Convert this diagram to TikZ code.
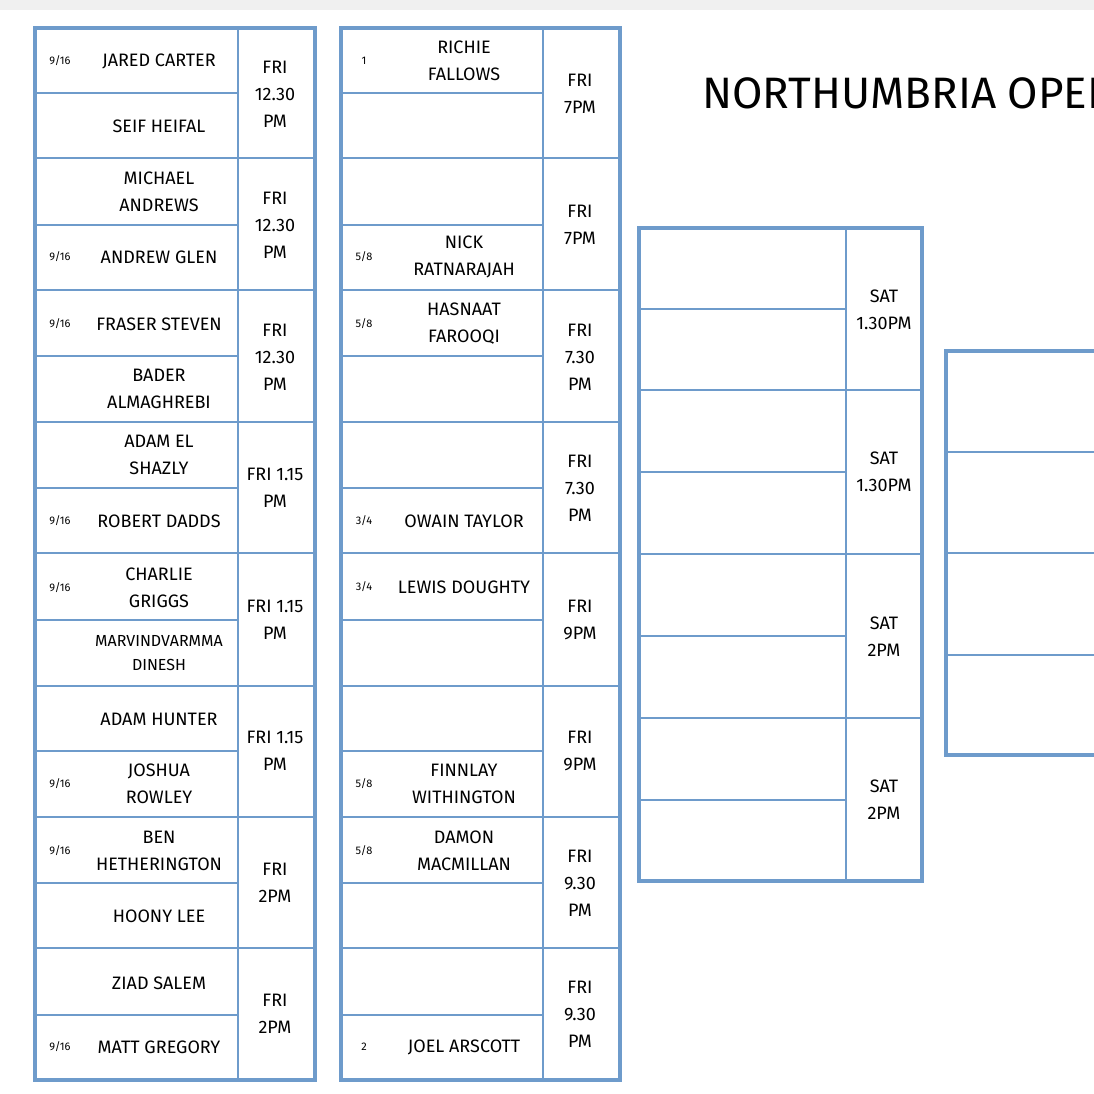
\documentclass[tikz,border=0pt]{standalone}
\usepackage{fontspec}
\setmainfont{Fira Sans}
\usetikzlibrary{positioning}
\definecolor{gridblue}{HTML}{6E9BCB}
\tikzset{
  outer/.style={draw=gridblue,line width=1.6pt},
  sep/.style={draw=gridblue,line width=1pt},
  slot/.style={draw=gridblue,line width=0.7pt},
  player/.style={align=center,font=\fontsize{9}{13.5}\selectfont,inner sep=0pt},
  seed/.style={font=\fontsize{5.5}{6}\selectfont,inner sep=0pt},
  slottime/.style={align=center,font=\fontsize{9}{13.5}\selectfont,inner sep=0pt},
}
\begin{document}
\begin{tikzpicture}[x=0.5pt,y=-0.5pt]
\useasboundingbox (0,0) rectangle (1094,1094);
\clip (0,0) rectangle (1094,1094);
\fill[black!6] (0,0) rectangle (1094,10);

% first round grid
\foreach \xl/\xm/\xr in {35/238/315,341/543/620}{
  \draw[outer] (\xl,28) rectangle (\xr,1080);
  \draw[slot] (\xm,28) -- (\xm,1080);
  \foreach \y in {158,290,422,553,686,817,948}
    \draw[sep] (\xl,\y) -- (\xr,\y);
  \foreach \y in {93,225,356,488,620,751,883,1015}
    \draw[slot] (\xl,\y) -- (\xm,\y);
}
% second round grid
\draw[outer] (639,228) rectangle (922,881);
\draw[slot] (846,228) -- (846,881);
\foreach \y in {390,554,718}
  \draw[sep] (639,\y) -- (922,\y);
\foreach \y in {309,472,636,800}
  \draw[slot] (639,\y) -- (846,\y);
% third round grid
\draw[outer] (946,351) rectangle (1120,755);
\foreach \y in {452,553,655}
  \draw[slot] (946,\y) -- (1120,\y);

\node[anchor=west,font=\fontsize{22}{24}\selectfont,inner sep=0pt] (title) at (702,93) {NORTHUMBRIA OPEN};

% column one
\node[seed] (s1a) at (60,61) {9/16};
\node[player] (p1a) at (159,61) {JARED CARTER};
\node[player] (p1b) at (159,126) {SEIF HEIFAL};
\node[slottime] (t1) at (275,94) {FRI\\12.30\\PM};
\node[player] (p2a) at (159,192) {MICHAEL\\ANDREWS};
\node[seed] (s2b) at (60,257) {9/16};
\node[player] (p2b) at (159,257) {ANDREW GLEN};
\node[slottime] (t2) at (275,225) {FRI\\12.30\\PM};
\node[seed] (s3a) at (60,324) {9/16};
\node[player] (p3a) at (159,324) {FRASER STEVEN};
\node[player] (p3b) at (159,389) {BADER\\ALMAGHREBI};
\node[slottime] (t3) at (275,357) {FRI\\12.30\\PM};
\node[player] (p4a) at (159,455) {ADAM EL\\SHAZLY};
\node[seed] (s4b) at (60,521) {9/16};
\node[player] (p4b) at (159,521) {ROBERT DADDS};
\node[slottime] (t4) at (275,488) {FRI 1.15\\PM};
\node[seed] (s5a) at (60,588) {9/16};
\node[player] (p5a) at (159,588) {CHARLIE\\GRIGGS};
\node[player,font=\fontsize{8}{12}\selectfont] (p5b) at (159,653) {MARVINDVARMMA\\DINESH};
\node[slottime] (t5) at (275,620) {FRI 1.15\\PM};
\node[player] (p6a) at (159,719) {ADAM HUNTER};
\node[seed] (s6b) at (60,784) {9/16};
\node[player] (p6b) at (159,784) {JOSHUA\\ROWLEY};
\node[slottime] (t6) at (275,751) {FRI 1.15\\PM};
\node[seed] (s7a) at (60,851) {9/16};
\node[player] (p7a) at (159,851) {BEN\\HETHERINGTON};
\node[player] (p7b) at (159,916) {HOONY LEE};
\node[slottime] (t7) at (275,883) {FRI\\2PM};
\node[player] (p8a) at (159,983) {ZIAD SALEM};
\node[seed] (s8b) at (60,1047) {9/16};
\node[player] (p8b) at (159,1047) {MATT GREGORY};
\node[slottime] (t8) at (275,1014) {FRI\\2PM};

% column two
\node[seed] (s9a) at (364,61) {1};
\node[player] (p9a) at (464,61) {RICHIE\\FALLOWS};
\node[slottime] (t9) at (580,94) {FRI\\7PM};
\node[seed] (s10b) at (364,257) {5/8};
\node[player] (p10b) at (464,257) {NICK\\RATNARAJAH};
\node[slottime] (t10) at (580,225) {FRI\\7PM};
\node[seed] (s11a) at (364,324) {5/8};
\node[player] (p11a) at (464,324) {HASNAAT\\FAROOQI};
\node[slottime] (t11) at (580,357) {FRI\\7.30\\PM};
\node[seed] (s12b) at (364,521) {3/4};
\node[player] (p12b) at (464,521) {OWAIN TAYLOR};
\node[slottime] (t12) at (580,488) {FRI\\7.30\\PM};
\node[seed] (s13a) at (364,587) {3/4};
\node[player] (p13a) at (464,587) {LEWIS DOUGHTY};
\node[slottime] (t13) at (580,620) {FRI\\9PM};
\node[seed] (s14b) at (364,784) {5/8};
\node[player] (p14b) at (464,784) {FINNLAY\\WITHINGTON};
\node[slottime] (t14) at (580,751) {FRI\\9PM};
\node[seed] (s15a) at (364,851) {5/8};
\node[player] (p15a) at (464,851) {DAMON\\MACMILLAN};
\node[slottime] (t15) at (580,883) {FRI\\9.30\\PM};
\node[seed] (s16b) at (364,1047) {2};
\node[player] (p16b) at (464,1047) {JOEL ARSCOTT};
\node[slottime] (t16) at (580,1014) {FRI\\9.30\\PM};

% column three
\node[slottime] (t17) at (884,310) {SAT\\1.30PM};
\node[slottime] (t18) at (884,472) {SAT\\1.30PM};
\node[slottime] (t19) at (884,637) {SAT\\2PM};
\node[slottime] (t20) at (884,800) {SAT\\2PM};
\end{tikzpicture}
\end{document}
